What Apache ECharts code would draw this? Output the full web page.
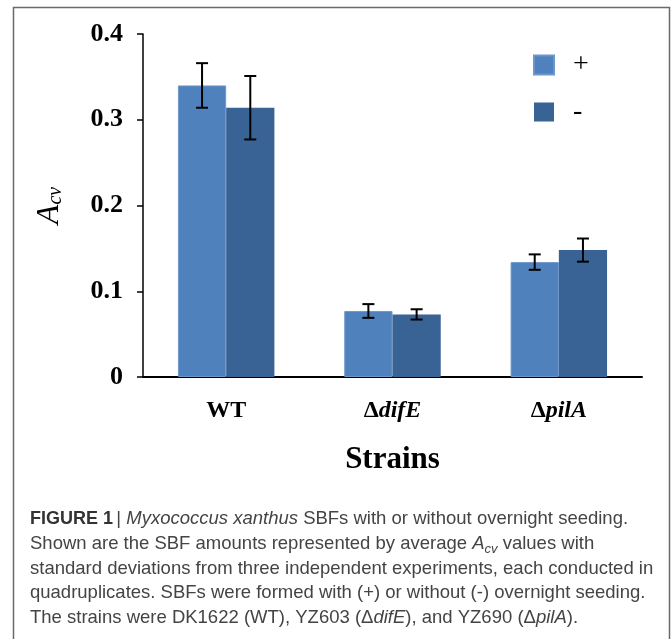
<!DOCTYPE html>
<html>
<head>
<meta charset="utf-8">
<script src="https://cdn.jsdelivr.net/npm/echarts@6/dist/echarts.min.js"></script>
<style>html,body{margin:0;padding:0;background:#fff}#c{width:672px;height:639px}</style>
</head>
<body>
<div id="c"></div>
<script>
const categories = ['WT', 'ΔdifE', 'ΔpilA'];
const plusValues = [0.340, 0.077, 0.134];
const minusValues = [0.314, 0.073, 0.148];
const plusErr = [0.026, 0.008, 0.009];
const minusErr = [0.037, 0.006, 0.0135];
const yTicks = [0, 0.1, 0.2, 0.3, 0.4];
const legendNames = ['+', '-'];

const serif = '"Liberation Serif", "DejaVu Serif", serif';
const sans = '"Liberation Sans", Arial, sans-serif';
const GAP = 0.42;

const errData = [];
categories.forEach((c, i) => {
  errData.push([i, plusValues[i] - plusErr[i], plusValues[i] + plusErr[i], 0]);
  errData.push([i, minusValues[i] - minusErr[i], minusValues[i] + minusErr[i], 1]);
});

function catLabel(v) {
  if (v.charAt(0) === 'Δ') return '{d|Δ}{i|' + v.slice(1) + '}';
  return '{n|' + v + '}';
}

const captionLines = [
  '{b|FIGURE 1} {n|| }{i|Myxococcus xanthus}{n| SBFs with or without overnight seeding.}',
  '{n|Shown are the SBF amounts represented by average }{i|A}{sub|cv}{n| values with}',
  '{n|standard deviations from three independent experiments, each conducted in}',
  '{n|quadruplicates. SBFs were formed with (+) or without (-) overnight seeding.}',
  '{n|The strains were DK1622 (WT), YZ603 (Δ}{i|difE}{n|), and YZ690 (Δ}{i|pilA}{n|).}'
];
const capColor = '#444';
const captionRich = {
  n: {fontFamily: sans, fontSize: 18.5, fill: capColor, lineHeight: 24},
  b: {fontFamily: sans, fontSize: 18, fontWeight: 'bold', fill: '#333', lineHeight: 24},
  i: {fontFamily: sans, fontSize: 18.5, fontStyle: 'italic', fill: capColor, lineHeight: 24},
  sub: {fontFamily: sans, fontSize: 13, fontStyle: 'italic', fill: capColor, lineHeight: 15, verticalAlign: 'bottom'}
};

const chart = echarts.init(document.getElementById('c'), null, {renderer: 'canvas'});
chart.setOption({
  animation: false,
  backgroundColor: '#fff',
  grid: {left: 143, right: 30, top: 34, bottom: 262, containLabel: false},
  legend: {
    data: legendNames,
    orient: 'vertical',
    left: 533, top: 51,
    padding: 0,
    itemWidth: 20, itemHeight: 19, itemGap: 19,
    icon: 'rect',
    textStyle: {fontFamily: serif, fontSize: 28, color: '#000', lineHeight: 19, padding: [0, 0, 0, 14]}
  },
  xAxis: {
    type: 'category',
    data: categories,
    name: 'Strains',
    nameLocation: 'middle',
    nameGap: 67,
    nameTextStyle: {fontFamily: serif, fontSize: 31, fontWeight: 'bold', color: '#000'},
    axisLine: {lineStyle: {color: '#000', width: 2}},
    axisTick: {show: false},
    axisLabel: {
      margin: 22,
      formatter: catLabel,
      rich: {
        n: {fontFamily: serif, fontSize: 24, fontWeight: 'bold', color: '#000'},
        d: {fontFamily: serif, fontSize: 24, fontWeight: 'bold', color: '#000'},
        i: {fontFamily: serif, fontSize: 24, fontWeight: 'bold', fontStyle: 'italic', color: '#000'}
      }
    }
  },
  yAxis: {
    type: 'value',
    min: 0, max: 0.4, interval: 0.1,
    name: '{a|A}{s|cv}',
    nameLocation: 'middle',
    nameRotate: 90,
    nameGap: 77,
    nameTextStyle: {
      rich: {
        a: {fontFamily: serif, fontSize: 32, fontStyle: 'italic', color: '#000', lineHeight: 32},
        s: {fontFamily: serif, fontSize: 20, fontStyle: 'italic', color: '#000', lineHeight: 20, verticalAlign: 'bottom', padding: [6,0,0,0]}
      }
    },
    axisLine: {show: true, lineStyle: {color: '#000', width: 1.5}},
    axisTick: {show: true, length: 6, lineStyle: {color: '#000', width: 1.5}},
    splitLine: {show: false},
    axisLabel: {
      margin: 20,
      fontFamily: serif, fontSize: 26, fontWeight: 'bold', color: '#000',
      formatter: v => (yTicks.indexOf(Math.round(v * 10) / 10) >= 0 ? (v === 0 ? '0' : v.toFixed(1)) : '')
    }
  },
  series: [
    {name: '+', type: 'bar', data: plusValues, barGap: '0%', barCategoryGap: (GAP * 100) + '%',
      itemStyle: {color: '#4F81BD', borderColor: '#6d97cc', borderWidth: 1}},
    {name: '-', type: 'bar', data: minusValues, barGap: '0%', barCategoryGap: (GAP * 100) + '%',
      itemStyle: {color: '#3A6395'}},
    {
      type: 'custom', name: 'err', silent: true, z: 10,
      data: errData,
      encode: {x: 0, y: [1, 2]},
      renderItem: function (params, api) {
        const ci = api.value(0);
        const lo = api.coord([ci, api.value(1)]);
        const hi = api.coord([ci, api.value(2)]);
        const band = api.size([1, 0])[0];
        const bw = band * (1 - GAP) / 2;
        const x = lo[0] + (api.value(3) === 0 ? -bw / 2 : bw / 2);
        const cw = 6;
        const st = {stroke: '#000', lineWidth: 2};
        return {type: 'group', children: [
          {type: 'line', shape: {x1: x, y1: lo[1], x2: x, y2: hi[1]}, style: st},
          {type: 'line', shape: {x1: x - cw, y1: lo[1], x2: x + cw, y2: lo[1]}, style: st},
          {type: 'line', shape: {x1: x - cw, y1: hi[1], x2: x + cw, y2: hi[1]}, style: st}
        ]};
      }
    }
  ],
  graphic: [
    {type: 'rect', shape: {x: 13.5, y: 7.5, width: 656, height: 660}, style: {fill: 'none', stroke: '#6a6a6a', lineWidth: 1.5}, silent: true}
  ].concat(captionLines.map((t, k) => ({
    type: 'text', x: 30, y: 519 + k * 24.75,
    style: {text: t, rich: captionRich, verticalAlign: 'middle', textVerticalAlign: 'middle'},
    silent: true
  })))
});
</script>
</body>
</html>
